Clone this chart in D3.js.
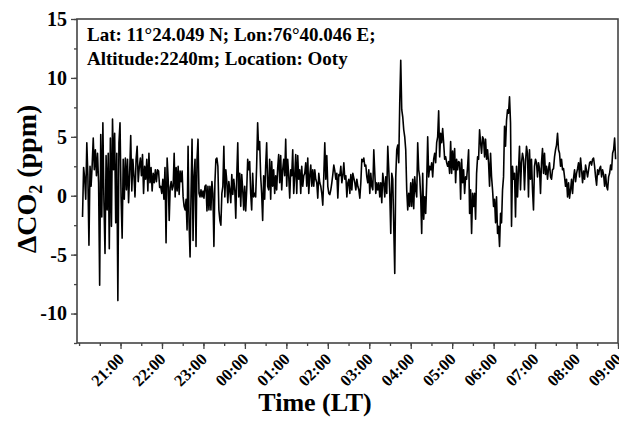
<!DOCTYPE html>
<html lang="en">
<head>
<meta charset="UTF-8"/>
<title>Delta CO2 at Ooty</title>
<script src="https://d3js.org/d3.v7.min.js"></script>
<style>
	body { margin: 0; background: #fff; }
	svg { display: block; }
</style>
</head>
<body>
<script>
// segment start times (LT), last entry closes the final segment
var segTimes = ["20:05", "22:09", "00:17", "02:29", "04:39", "06:49", "08:58"];

// delta CO2 (ppm), one array per segment
var seg1 = [-1.8, 2.4, 1.5, -0.3, 4.5, 1.7, -4.2, 2.5, 0.8, 2.6, 4.9, 2.2, 3.9, 1.7, 3.6, 1.1,
	-7.6, 5.2, -1.8, 6.2, -0.6, -4.9, 3.4, -1.2, 3.6, -4.5, 4.9, -2.6, 6.5,
	2.2, 5.3, -2.3, 3.6, -8.9, 4.5, 6.2, -0.1, -3.6, 3.1, -0.3, 3.2, 0.5, 3.1, -0.6, 1.9, 5.1,
	0.4, 3.1, 1.7, -0.1, 3.1, 4.2, 1.2, 2.4, 3.2, 1.7, 3.5, 0.2, 2.5, 1.4, 3.1, 0.4, 3.6, 1.1,
	2.4, 0.4, 1.9, 1.1, 2.2, 1.2, 2.2, 2.1, 0.7, 0.8, 0.2, 1.4, -0.3, 2.4, -4.0, 3.2];
var seg2 = [1.4, -2.1, 0.7, 1.2, 0.5, 0.8, 3.6, -0.1, 2.4, 0.4, 2.5, 0.1, 2.1, 1.2, 2.1, -0.1,
	-0.9, -1.2, -0.3, -2.9, 4.2, -2.3, -5.2, 0.2, 4.8, -3.8, 1.7, 3.1, -4.3, 3.1, 4.8, 0.2,
	-0.1, 0.5, -0.1, 0.4, -0.2, 0.8, 0.9, -1.3, 0.8, -1.2, 0.8, -1.2, 1.2, 0.2, -4.3, 1.1,
	3.1, 3.2, 2.5, -1.2, -2.1, -2.5, 0.2, 0.8, 4.2, -0.1, 2.2, 1.2, -0.6, 1.2, 0.5, -0.6,
	1.8, 0.1, 1.4, 0.5, -1.9, 1.7, 4.5, -0.1, 1.9, -0.9, 1.8, 0.5, -1.2, 0.8, -1.3, 0.5,
	3.1, 2.2, 2.9, 0.2, -1.2, 1.9, -0.1, 0.2, -0.1];
var seg3 = [2.5, 6.2, 3.9, 4.6, 1.7, 0.2, -2.1, 1.7, -0.3, 2.5, 4.5, 0.8, 0.5, 3.1, -0.3, 2.9,
	0.8, 2.2, 0.2, 1.7, 0.5, 2.4, 3.5, 1.1, 3.4, 0.5, 2.2, 3.1, 1.7, 4.8, 0.8, 3.1, 1.7, -0.2,
	2.2, 1.7, 3.9, 0.2, 1.7, 3.5, 0.2, 3.4, 1.4, 2.2, 0.2, 2.5, 0.8, 1.7, 1.9, 2.8, 0.8, 3.2,
	0.2, 1.7, 2.6, 0.8, 2.2, 0.8, 2.2, 1.4, 1.1, -0.2, 1.9, 1.1, 0.8, 0.2, -0.8, 1.7, 4.5, 1.4,
	3.4, 0.8, 0.2, 0.1, 0.5, 1.1, 1.8, 2.6, 2.1, 1.4, 1.9, -0.2, 1.8, 1.7, 2.5, 1.1, 1.7, 2.8,
	1.4, 1.7, -0.1];
var seg4 = [1.1, 1.4, 0.2, 1.8, 0.5, 1.9, 1.5, 1.1, 0.5, 1.4, 0.8, 0.5, -0.2, 1.1, 3.1, 2.9,
	3.2, 2.5, 2.6, 1.6, 1.1, 2.2, 0.2, 1.9, 0.8, 0.5, 3.9, 1.9, 0.2, 1.1, 0.5, 1.1, -0.1, 1.1,
	-0.6, 1.9, 1.1, -0.1, 1.6, 0.2, 4.2, 2.2, 0.2, -3.2, 1.9, 1.4, -2.6, -6.6, 1.6, 3.9, 4.3,
	2.8, 7.9, 11.5, 7.3, 6.7, 5.6, 5.0, 3.9, 0.5, -1.2, 0.2, -0.9, 1.1, -0.9, 1.4, -1.1, 1.6,
	0.5, -0.1, 4.5, 2.2, 1.6, -0.1, -3.2, 1.9, -2.0, -0.1, -1.5, 1.1, 5.0, 1.6, 2.5, 2.2, 2.8,
	1.6, 3.1, 3.6, 2.8, 4.5];
var seg5 = [5.0, 7.2, 3.3, 5.3, 4.5, 5.7, 4.5, 3.1, 3.3, 2.8, 2.5, 2.9, 1.9, 4.6, 1.9, 3.8,
	2.2, 4.0, 1.1, 3.1, 2.2, 2.9, 2.8, -0.3, 3.1, 1.1, 2.2, 0.2, 1.6, 1.4, 2.5, 3.9, -1.5, 0.5,
	-3.2, 0.2, -0.9, 0.2, -2.0, 1.9, 3.3, 3.1, 5.6, 4.5, 3.6, 5.0, 4.8, 3.3, 4.8, 3.1, 3.9, 2.8,
	0.8, 3.6, 1.6, 0.5, -0.9, -0.3, -2.3, -0.1, -3.2, -2.6, -4.3, -1.5, -2.3, 0.5, 1.6, 5.9,
	4.2, 6.4, 7.3, 7.0, 8.4, 6.2, -2.6, 2.5, 1.4, 1.9, -1.8, 2.5, -0.1, 2.2, 4.2, 0.5, 2.8,
	3.6, 3.1, 0.5, 2.8, 4.2];
var seg6 = [3.6, -0.1, 3.9, 1.4, 3.1, 0.5, -1.2, 2.5, 3.1, 2.8, 1.6, 2.8, 2.3, 0.2, 2.8, 4.0,
	1.9, 3.6, 1.8, 2.5, 1.4, 2.3, 2.8, 1.6, 1.4, 2.2, 2.3, 3.3, 3.9, 4.3, 5.3, 3.9, 3.6, 2.5,
	3.1, 2.2, 2.3, 1.6, 0.8, 1.4, -0.1, 1.1, -0.2, 0.5, 1.4, 0.2, 1.5, 2.2, 1.2, 1.9, 2.3, 2.8,
	1.6, 3.2, 2.2, 1.1, 2.1, 1.4, 2.6, 2.1, 1.6, 2.2, 2.8, 2.9, 2.6, 3.1, 3.2, 2.5, 1.6, 0.9,
	2.2, 1.8, 2.3, 2.5, 1.6, 2.2, 1.8, 0.8, 1.8, 0.8, 0.5, 1.6, 1.9, 2.6, 2.2, 3.6, 3.9, 4.9, 3.1];

var segments = [seg1, seg2, seg3, seg4, seg5, seg6];

var xStart = "19:57";
var xEnd = "09:00";
var yTicks = [-10, -5, 0, 5, 10, 15];
var infoLines = ["Lat: 11°24.049 N; Lon:76°40.046 E;", "Altitude:2240m; Location: Ooty"];

var w = 619;
var h = 433;
var padL = 77, padR = 618, padT = 19, padB = 343;

// evening hours are day 1, morning hours roll into day 2
function toDate(s) {
	var p = s.split(":");
	var hr = +p[0], mn = +p[1];
	var day = hr < 12 ? 2 : 1;
	return new Date(2020, 0, day, hr, mn);
}

var data = [];
segments.forEach(function (seg, k) {
	var t0 = toDate(segTimes[k]).getTime();
	var t1 = toDate(segTimes[k + 1]).getTime();
	var step = (t1 - t0) / seg.length;
	seg.forEach(function (v, i) {
		data.push({ t: new Date(t0 + i * step), v: v });
	});
});

var xScale = d3.scaleTime()
	.domain([toDate(xStart), toDate(xEnd)])
	.range([padL, padR]);

var yScale = d3.scaleLinear()
	.domain([-12.5, 15])
	.range([padB, padT]);

var svg = d3.select("body")
	.append("svg")
	.attr("width", w)
	.attr("height", h)
	.style("font-family", "'Liberation Serif', 'Times New Roman', serif")
	.style("font-weight", "bold");

var axisColor = "#444";

// minor ticks every half hour
var xMinor = d3.axisBottom(xScale)
	.ticks(d3.timeMinute.every(30))
	.tickSize(3)
	.tickFormat("");
svg.append("g")
	.attr("transform", "translate(0," + padB + ")")
	.call(xMinor)
	.call(function (g) { g.select(".domain").remove(); })
	.selectAll("line").attr("stroke", axisColor).attr("stroke-width", 1.3);

var hourTicks = d3.timeHour.range(toDate("21:00"), d3.timeMinute.offset(toDate("09:00"), 1));
var xAxis = d3.axisBottom(xScale)
	.tickValues(hourTicks)
	.tickSize(6)
	.tickSizeOuter(0)
	.tickFormat(d3.timeFormat("%H:%M"));
var gx = svg.append("g")
	.attr("transform", "translate(0," + padB + ")")
	.call(xAxis);
gx.select(".domain").remove();
gx.selectAll("line").attr("stroke", axisColor).attr("stroke-width", 1.3);
gx.selectAll("text")
	.attr("y", 0)
	.attr("dy", "0.35em")
	.attr("transform", "translate(0,13) rotate(-45)")
	.style("text-anchor", "end")
	.attr("font-size", "16.5px")
	.attr("font-family", "'Liberation Serif', serif")
	.attr("font-weight", "bold")
	.attr("fill", "#000");

var yMinor = d3.axisLeft(yScale)
	.tickValues(d3.range(-12.5, 15.1, 2.5))
	.tickSize(3)
	.tickFormat("");
svg.append("g")
	.attr("transform", "translate(" + padL + ",0)")
	.call(yMinor)
	.call(function (g) { g.select(".domain").remove(); })
	.selectAll("line").attr("stroke", axisColor).attr("stroke-width", 1.3);

var yAxis = d3.axisLeft(yScale)
	.tickValues(yTicks)
	.tickSize(6)
	.tickPadding(4)
	.tickFormat(function (d) { return String(d); });
var gy = svg.append("g")
	.attr("transform", "translate(" + padL + ",0)")
	.call(yAxis);
gy.select(".domain").remove();
gy.selectAll("line").attr("stroke", axisColor).attr("stroke-width", 1.3);
gy.selectAll("text")
	.attr("font-size", "20px")
	.attr("font-family", "'Liberation Serif', serif")
	.attr("font-weight", "bold")
	.attr("fill", "#000");

// the series
var line = d3.line()
	.x(function (d) { return xScale(d.t); })
	.y(function (d) { return yScale(d.v); });

svg.append("path")
	.datum(data)
	.attr("d", line)
	.attr("fill", "none")
	.attr("stroke", "#000")
	.attr("stroke-width", 1.6)
	.attr("stroke-linejoin", "round");

// frame
svg.append("rect")
	.attr("x", padL)
	.attr("y", padT)
	.attr("width", padR - padL)
	.attr("height", padB - padT)
	.attr("fill", "none")
	.attr("stroke", axisColor)
	.attr("stroke-width", 1.6);

svg.selectAll(".info")
	.data(infoLines)
	.enter()
	.append("text")
	.attr("class", "info")
	.attr("x", padL + 10)
	.attr("y", function (d, i) { return 41 + i * 24; })
	.attr("font-size", "19px")
	.text(function (d) { return d; });

// axis titles
svg.append("text")
	.attr("x", 315)
	.attr("y", 411)
	.attr("text-anchor", "middle")
	.attr("font-size", "26px")
	.text("Time (LT)");

var yTitle = svg.append("text")
	.attr("transform", "translate(36,179) rotate(-90)")
	.attr("text-anchor", "middle")
	.attr("font-size", "28px");
yTitle.append("tspan").text("ΔCO");
yTitle.append("tspan").attr("font-size", "18px").attr("dy", "6").text("2");
yTitle.append("tspan").attr("dy", "-6").text(" (ppm)");
</script>
</body>
</html>
